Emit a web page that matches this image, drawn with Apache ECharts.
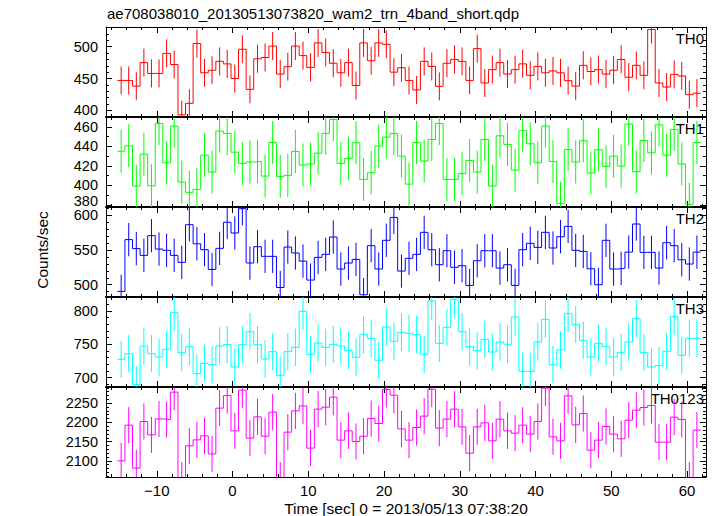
<!DOCTYPE html>
<html><head><meta charset="utf-8">
<script src="https://cdn.jsdelivr.net/npm/echarts@6/dist/echarts.min.js"></script>
<style>html,body{margin:0;padding:0;background:#fff}#c{width:717px;height:516px}</style>
</head><body><div id="c"></div>
<script>
const titleText = 'ae708038010_20130513073820_wam2_trn_4band_short.qdp';
const xLabelText = 'Time [sec] 0 = 2013/05/13 07:38:20';
const yLabelText = 'Counts/sec';
const panelNames = ['TH0', 'TH1', 'TH2', 'TH3', 'TH0123'];
const colors = ['#ff0000', '#00ff00', '#0000ff', '#00ffff', '#ff00ff'];

// time bins: 1 s wide, first bin centred at -14.7 s
const firstBinCenter = -14.7;
const binWidth = 1;

const th0 = [447,447,438,475,458,458,489.5,472,393,411,505,459,463,477,473,450,496,433,481,483,501,457,468.6,501,486,467.5,506,491,474,459,475,439,506,478,506,503.7,460,467,447,432,
 477,469,437.7,474,480,477,447,497,443,464,475,457,464,473,455,469,459,462,459,446.6,438,470.7,461,464,457,463,480,452,470.7,455,527,443,436.6,456.5,454,424.6,427];
const th1 = [435,440.6,399.4,432,399.7,463.4,423.2,460.7,403.5,393,396,431,413.7,455.6,453.2,434,422.6,424,424.6,409.6,444,409.3,410.3,434.8,420.9,421.9,433,453.2,467.5,422.6,427.7,443.7,406.2,413,440.3,449.4,453.2,430,401.4,444,
 425,447,463.4,406.2,406.2,412.3,425.6,413.7,447,399.4,450.8,442,415.7,456,442.6,423.2,460.7,424.6,381.7,436.9,424,445.7,412.7,436.5,419.5,430,419.8,462.7,414,446,433.4,462,431,457.3,421.9,380.7,444];
const th2 = [490.4,565,552,542.3,570.7,551.4,549.5,542.3,532.2,586.5,559,550.5,522,552.4,590,574.5,609.6,531.3,554.8,540.9,540.9,496,554.3,545.7,534,506.7,539.4,543.75,568.75,522.6,531.25,536.5,485.6,556.25,522.6,564,597,519.7,538,543.75,
 575.5,550.5,528.8,549,525,527.4,499,534.6,549,549,524,528.8,499,550.5,559.6,553.8,575.5,552.9,569.2,584.1,549.5,548,523,500,564,522.6,523.6,547,587.5,546.6,546.6,524,560.6,556.25,536,529.8,547];
const th3 = [727.5,736,689.5,747.5,736,731,742.5,797.5,737.5,746.5,706,721.5,719.5,747.5,749.5,716,749.5,769,749.5,728,739,703.5,739,745.5,799.5,735,752,745.5,750,747.5,740.5,730.5,764.5,759,726,776,754.5,768,766.5,764.5,
 735,815,751.5,775.5,817.5,769,746.5,740.5,757.5,738.5,753.5,750,791,709.5,709.5,753.5,787.5,719.5,741.5,796.5,780,756,731,751.5,746.5,731,738,753.5,788.5,737.5,716,718,739.5,791.5,733.5,759,759];
const th0123 = [2100,2192.8,2081,2202.3,2167.6,2209,2207.5,2278.6,2050,2139,2154.6,2165,2118,2237,2270,2178,2283.8,2159,2214.4,2164,2226.6,2050,2174.6,2230,2243,2133,2234.4,2239.6,2265.6,2153.8,2178,2150.3,2164,2210,2197,2285.5,2270.8,2183,2153.8,2186.7,
 2216.2,2286.4,2185,2208.4,2234.4,2188.4,2120,2188.4,2198.8,2152,2208.4,2178,2172,2192.8,2169.4,2202.3,2289,2162.4,2152,2269,2193.6,2223,2127.7,2153.8,2189.3,2169.4,2157.2,2205.8,2231.8,2238.7,2244,2148.6,2148.6,2213.6,2207.5,2050,2179.8];
const panelData = [th0, th1, th2, th3, th0123];
// 1-sigma error half-widths per panel (counts/sec)
const errHalf = [22, 22, 24, 28, 47];

const xRange = [-16.7, 62.5];
const xMajor = [-10, 0, 10, 20, 30, 40, 50, 60];
const xMinorStep = 2;
const yRanges = [[389.5, 531], [378, 470], [482.3, 612], [686, 821], [2058, 2292]];
const yMajor = [[400, 450, 500], [380, 400, 420, 440, 460], [500, 550, 600], [700, 750, 800], [2100, 2150, 2200, 2250]];
const yMinorStep = [10, 10, 10, 10, 10];

const FONT = '"Liberation Sans", Arial, Helvetica, sans-serif';
const gridLeft = 106, gridWidth = 600, gridTop0 = 27, gridH = 90;
const yTickFont = 14.5;

function minorList(lo, hi, step, majors) {
  const out = [];
  for (let v = Math.ceil(lo / step) * step; v <= hi + 1e-9; v += step) {
    if (!majors.some(m => Math.abs(m - v) < 1e-6)) out.push(v);
  }
  return out;
}
const xMinor = minorList(xRange[0], xRange[1], xMinorStep, xMajor);

const grids = [], xAxes = [], yAxes = [], series = [], graphics = [];
const black = '#000';
panelNames.forEach((name, i) => {
  const top = gridTop0 + gridH * i;
  grids.push({ left: gridLeft, width: gridWidth, top: top, height: gridH });
  const base = { gridIndex: i, type: 'value', min: xRange[0], max: xRange[1], splitLine: { show: false } };
  const xAx = (pos, vals, len, lineW, labels) => Object.assign({}, base, {
    position: pos,
    axisLine: { show: lineW > 0, onZero: false, lineStyle: { color: black, width: lineW || 1 } },
    axisTick: { show: true, inside: true, length: len, customValues: vals, lineStyle: { color: black, width: 1 } },
    axisLabel: labels ? { show: true, customValues: vals, fontSize: 15, fontFamily: FONT, color: black, margin: 6,
      showMinLabel: true, showMaxLabel: true,
      formatter: v => String(v).replace('-', '\u2212') } : { show: false }
  });
  xAxes.push(xAx('bottom', xMajor, 6, 1, i === panelNames.length - 1));
  xAxes.push(xAx('bottom', xMinor, 3, 0, false));
  xAxes.push(xAx('top', xMajor, 6, i === 0 ? 1 : 2, false));
  xAxes.push(xAx('top', xMinor, 3, 0, false));

  const yr = yRanges[i];
  const yMin = minorList(yr[0], yr[1], yMinorStep[i], yMajor[i]);
  // a label sitting right on the panel's lower edge is lifted slightly (as in the reference)
  const edgeLabels = yMajor[i].filter(v => v - yr[0] < 3);
  const axisLabelVals = yMajor[i].filter(v => v - yr[0] >= 3);
  const ybase = { gridIndex: i, type: 'value', min: yr[0], max: yr[1], splitLine: { show: false } };
  const yAx = (pos, vals, labelVals, len, line, labels) => Object.assign({}, ybase, {
    position: pos,
    axisLine: { show: line, onZero: false, lineStyle: { color: black, width: 1 } },
    axisTick: { show: true, inside: true, length: len, customValues: vals, lineStyle: { color: black, width: 1 } },
    axisLabel: labels ? { show: true, customValues: labelVals, fontSize: yTickFont, fontFamily: FONT, color: black, margin: 8,
      showMinLabel: true, showMaxLabel: true, formatter: v => String(v) } : { show: false }
  });
  yAxes.push(yAx('left', yMajor[i], axisLabelVals, 6, true, true));
  yAxes.push(yAx('left', yMin, [], 3, false, false));
  yAxes.push(yAx('right', yMajor[i], [], 6, true, false));
  yAxes.push(yAx('right', yMin, [], 3, false, false));
  edgeLabels.forEach(v => {
    graphics.push({ type: 'text', x: gridLeft - 8, y: top + gridH - 6.5, silent: true,
      style: { text: String(v), fill: black, font: yTickFont + 'px ' + FONT, textAlign: 'right', textVerticalAlign: 'middle' } });
  });

  const vals = panelData[i];
  const stepPts = [];
  const errPts = [];
  vals.forEach((v, k) => {
    const t = firstBinCenter + k * binWidth;
    stepPts.push([t - binWidth / 2, v]);
    stepPts.push([t + binWidth / 2, v]);
    errPts.push([t, v, errHalf[i]]);
  });
  const col = colors[i];
  series.push({
    type: 'line', xAxisIndex: 4 * i, yAxisIndex: 4 * i, data: stepPts,
    showSymbol: false, symbol: 'none', clip: true, silent: true, animation: false,
    lineStyle: { color: col, width: 1 }
  });
  series.push({
    type: 'custom', xAxisIndex: 4 * i, yAxisIndex: 4 * i, data: errPts, clip: true, silent: true, animation: false,
    renderItem: (params, api) => {
      const x = api.value(0), y = api.value(1), e = api.value(2);
      const p1 = api.coord([x, y - e]), p2 = api.coord([x, y + e]);
      return { type: 'line', shape: { x1: p1[0], y1: p1[1], x2: p2[0], y2: p2[1] },
        style: { stroke: col, lineWidth: 1 } };
    }
  });
  graphics.push({ type: 'text', x: 704, y: top + 11, silent: true,
    style: { text: name, fill: black, font: '15px ' + FONT, textAlign: 'right', textVerticalAlign: 'middle' } });
});

graphics.push({ type: 'text', x: 107, y: 13, silent: true,
  style: { text: titleText, fill: black, font: '15px ' + FONT, textAlign: 'left', textVerticalAlign: 'middle' } });
graphics.push({ type: 'text', x: 406, y: 508, silent: true,
  style: { text: xLabelText, fill: black, font: '15.5px ' + FONT, textAlign: 'center', textVerticalAlign: 'middle' } });
graphics.push({ type: 'text', x: 42, y: 250, rotation: Math.PI / 2, silent: true,
  style: { text: yLabelText, fill: black, font: '15.5px ' + FONT, textAlign: 'center', textVerticalAlign: 'middle' } });

const chart = echarts.init(document.getElementById('c'), null, { renderer: 'svg' });
chart.setOption({
  animation: false,
  backgroundColor: '#fff',
  grid: grids, xAxis: xAxes, yAxis: yAxes, series: series, graphic: graphics
});
</script></body></html>
